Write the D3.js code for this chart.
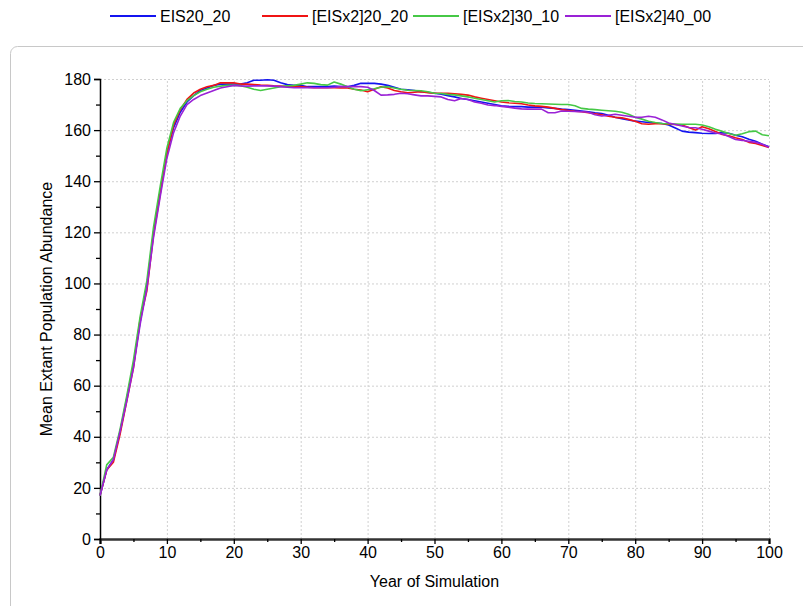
<!DOCTYPE html>
<html>
<head>
  <script src="https://d3js.org/d3.v7.min.js"></script>
  <style>
    body { margin: 0; background: #fff; }
    svg { display: block; font-family: "Liberation Sans", Arial, sans-serif; }
    .grid line { stroke: #d0d0d0; stroke-dasharray: 2,2; }
    .series { fill: none; stroke-width: 1.6; stroke-linejoin: round; }
  </style>
</head>
<body>
<script>
// mean abundance per simulated year (0..100)
var seriesNames = ["EIS20_20", "[EISx2]20_20", "[EISx2]30_10", "[EISx2]40_00"];
var seriesColors = ["#1414f0", "#f01414", "#46c846", "#9a22d6"];

var eis20_20 = [17, 27, 31, 42, 55, 68, 85, 99, 120, 136, 151,
  161, 167, 171, 173.5, 175.5, 176.5, 177.5, 178, 178, 178,
  178, 178.5, 179.5, 179.5, 179.7, 179.5, 178.5, 177.8, 177.5, 177.5,
  177, 177, 177, 177, 177.2, 177, 177, 177.5, 178.3, 178.3,
  178.3, 178, 177.5, 176.8, 176, 175.8, 175.5, 175, 174.8, 174.4,
  174, 173.5, 173, 172.4, 172, 171.5, 171, 170.5, 170, 169.5,
  169.3, 169.2, 169.2, 169, 169, 169, 168.7, 168.5, 168.2, 168,
  167.8, 167.5, 167.2, 166.8, 166.5, 165.8, 165, 164.5, 164, 163.5,
  163.3, 163, 162.8, 162.6, 162, 160.8, 159.6, 159.2, 159, 158.8,
  158.7, 158.7, 159, 158.8, 158, 157.4, 156.4, 155.6, 154.5, 153.5];

var eisx2_20_20 = [17, 27, 30, 41, 54, 67, 86, 97, 119, 135, 151,
  162, 168, 172, 174.5, 176, 177, 177.5, 178.5, 178.5, 178.5,
  178, 178, 177.8, 177.6, 177.5, 177.3, 177.2, 177, 177, 177,
  176.8, 176.6, 176.6, 176.6, 176.6, 176.5, 176.5, 176, 175.7, 175,
  176, 177, 176.5, 175.5, 175, 174.6, 174.8, 175, 174.6, 174.4,
  174.4, 174.4, 174.2, 174, 173.7, 173, 172.5, 172, 171.5, 171,
  170.7, 170.5, 170.3, 169.8, 169.5, 169.3, 169, 168.5, 168, 167.7,
  167.4, 167.2, 166.8, 166.4, 166, 165.4, 165, 164.8, 164.2, 163.5,
  162.5, 162.3, 162.5, 162.5, 162.3, 162.2, 162, 161, 160, 161.3,
  160.5, 159.5, 158.3, 157.8, 157, 156.3, 155.2, 154.8, 154, 153.2];

var eisx2_30_10 = [17, 29, 32, 43, 56, 70, 87, 101, 122, 138, 153,
  163, 168.5, 171.5, 173.5, 175, 176, 176.8, 177.2, 177.5, 177.6,
  177.4, 176.8, 176, 175.5, 176, 176.5, 177, 177.3, 177.5, 178,
  178.5, 178.3, 177.8, 177.6, 178.8, 178, 177, 176, 175.4, 175.8,
  176.2, 176.8, 177, 176.5, 176, 175.6, 175.5, 175.4, 175, 174.4,
  174.3, 174, 173.8, 173.4, 173, 172.5, 172, 171.5, 171, 171.5,
  171.6, 171.2, 171, 170.6, 170.4, 170.3, 170.2, 170.1, 170, 170,
  169.5, 168.5, 168.2, 168, 167.8, 167.6, 167.4, 167, 166.2, 165,
  164.3, 163.5, 163, 162.6, 162.5, 162.4, 162.3, 162.3, 162.3, 162,
  161.3, 160.3, 159.5, 158.7, 158, 158.6, 159.4, 159.6, 158.2, 157.8];

var eisx2_40_00 = [17, 27, 31, 42, 54, 67, 84, 98, 118, 134, 149,
  159, 165.5, 170, 172, 173.5, 174.5, 175.5, 176.5, 177, 177.5,
  177.3, 177.2, 177.3, 177.3, 177.3, 177.2, 177, 176.8, 176.6, 176.6,
  176.6, 176.6, 176.6, 176.6, 176.8, 177, 177, 177, 177, 176.8,
  175.5, 173.7, 173.8, 174, 174.4, 174.2, 173.8, 173.4, 173.4, 173.2,
  173, 172, 171.5, 172.4, 172, 171, 170.5, 169.8, 169.6, 169.3,
  169, 168.6, 168.3, 168.2, 168.2, 168.2, 166.8, 166.8, 167.5, 167.4,
  167.3, 167.2, 167, 166, 165.5, 165.8, 166.2, 165.8, 165.4, 165,
  165, 165.4, 165, 164, 162.8, 162.2, 161.6, 161, 160.9, 160.3,
  159.6, 158.9, 158.5, 157.5, 156.3, 156, 155.6, 155.2, 154.5, 153.3];

var seriesValues = [eis20_20, eisx2_20_20, eisx2_30_10, eisx2_40_00];
var xTicks = d3.range(0, 101, 10);
var yTicks = d3.range(0, 181, 20);

var width = 803, height = 606;
var margin = {left: 100, right: 34, top: 79, bottom: 67};

var svg = d3.select("body").append("svg")
  .attr("width", width).attr("height", height);

// panel frame
svg.append("rect")
  .attr("x", 10.5).attr("y", 46.5)
  .attr("width", 820).attr("height", 600)
  .attr("rx", 7)
  .attr("fill", "#fff")
  .attr("stroke", "#c8c8c8");

var x = d3.scaleLinear().domain([0, 100]).range([margin.left, width - margin.right]);
var y = d3.scaleLinear().domain([0, 180]).range([height - margin.bottom, margin.top]);

// grid
var grid = svg.append("g").attr("class", "grid");
grid.selectAll(".gx").data(xTicks.slice(1)).enter().append("line")
  .attr("x1", d => x(d) + 0.5).attr("x2", d => x(d) + 0.5)
  .attr("y1", y(0)).attr("y2", y(180));
grid.selectAll(".gy").data(yTicks.slice(1)).enter().append("line")
  .attr("x1", x(0)).attr("x2", x(100))
  .attr("y1", d => y(d) + 0.5).attr("y2", d => y(d) + 0.5);

// axes
var xAxis = svg.append("g")
  .attr("transform", "translate(0," + y(0) + ")")
  .call(d3.axisBottom(x).tickValues(xTicks).tickSize(5).tickPadding(3));
var xMinor = svg.append("g")
  .attr("transform", "translate(0," + y(0) + ")")
  .call(d3.axisBottom(x).tickValues(d3.range(5, 100, 10)).tickSize(3).tickFormat(""));
xMinor.select(".domain").remove();

var yAxis = svg.append("g")
  .attr("transform", "translate(" + x(0) + ",0)")
  .call(d3.axisLeft(y).tickValues(yTicks).tickSize(6).tickPadding(3));
var yMinor = svg.append("g")
  .attr("transform", "translate(" + x(0) + ",0)")
  .call(d3.axisLeft(y).tickValues(d3.range(10, 180, 20)).tickSize(4).tickFormat(""));
yMinor.select(".domain").remove();

svg.selectAll(".tick line").attr("stroke", "#000").attr("stroke-width", 1.3);
svg.selectAll(".tick text").attr("font-size", 16).attr("fill", "#000")
  .attr("font-family", "'Liberation Sans', Arial, sans-serif");
xAxis.select(".domain").attr("stroke", "#333").attr("stroke-width", 2.5);
yAxis.select(".domain").attr("stroke", "#000").attr("stroke-width", 1.5);

// series
var line = d3.line()
  .x((d, i) => x(i))
  .y(d => y(d));

svg.selectAll(".series")
  .data(seriesValues).enter().append("path")
  .attr("class", "series")
  .attr("stroke", (d, i) => seriesColors[i])
  .attr("d", line);

// axis titles
svg.append("text")
  .attr("x", (x(0) + x(100)) / 2).attr("y", 587)
  .attr("text-anchor", "middle").attr("font-size", 16)
  .text("Year of Simulation");

svg.append("text")
  .attr("transform", "translate(52," + ((y(0) + y(180)) / 2) + ") rotate(-90)")
  .attr("text-anchor", "middle").attr("font-size", 16)
  .text("Mean Extant Population Abundance");

// legend
var legendX = [110, 262, 413, 565];
var legend = svg.selectAll(".legend").data(seriesNames).enter().append("g")
  .attr("transform", (d, i) => "translate(" + legendX[i] + ",16)");
legend.append("line")
  .attr("x1", 0).attr("x2", 46)
  .attr("stroke", (d, i) => seriesColors[i]).attr("stroke-width", 2);
legend.append("text")
  .attr("x", 50).attr("dy", "0.35em").attr("font-size", 16)
  .text(d => d);
</script>
</body>
</html>
